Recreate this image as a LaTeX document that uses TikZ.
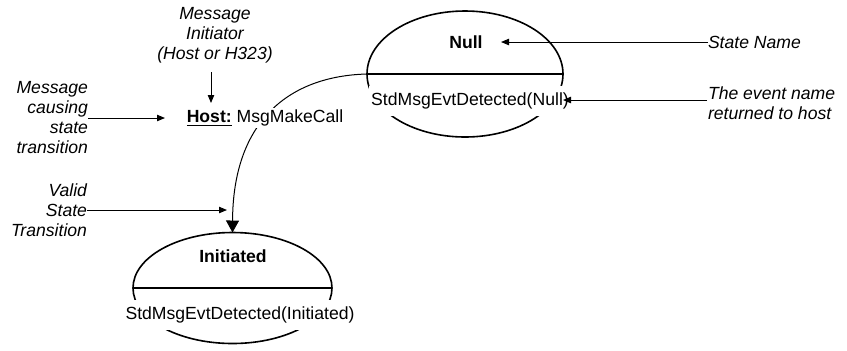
\documentclass[tikz,border=0pt]{standalone}
\usepackage{fontspec}
\setmainfont{Liberation Sans}
\usetikzlibrary{arrows.meta,shapes.geometric}
\begin{document}
\begin{tikzpicture}[x=0.5pt,y=-0.5pt,
  every node/.style={font=\fontsize{8.8}{10}\selectfont, inner sep=0pt, outer sep=0pt},
  statebox/.style={ellipse, draw, line width=0.8pt},
  lbl/.style={font=\fontsize{8.8}{10}\selectfont\itshape},
  arr/.style={-{Triangle[length=4pt,width=3.2pt]}, line width=0.5pt},
  bigarr/.style={-{Triangle[length=6pt,width=6.5pt]}, line width=0.5pt},
  evt/.style={fill=white, inner xsep=1pt, inner ysep=3.5pt}]
\useasboundingbox (0,0) rectangle (847,350);
% states
\node[statebox, minimum width=98pt, minimum height=63pt] (nullst) at (465,74) {};
\node[statebox, minimum width=99.5pt, minimum height=55.5pt] (initst) at (232.5,288) {};
\draw[line width=0.6pt] (nullst.west) -- (nullst.east);
\draw[line width=0.6pt] (initst.west) -- (initst.east);
\node[font=\fontsize{8.8}{10}\selectfont\bfseries] (nulltitle) at (466,42) {Null};
\node[font=\fontsize{8.8}{10}\selectfont\bfseries] (inittitle) at (233,256) {Initiated};
\node[evt] (nullevt) at (470,101) {StdMsgEvtDetected(Null)};
\node[evt] (initevt) at (240,315) {StdMsgEvtDetected(Initiated)};
% transition
\draw[bigarr] (nullst.west) .. controls (290,76) and (233,120) .. (initst.north);
\node[fill=white, inner sep=1pt] (host) at (265,118) {\underline{\textbf{Host:}} MsgMakeCall};
% labels
\node[lbl, align=center] (initlbl) at (215,35) {Message\\Initiator\\(Host or H323)};
\node[lbl, align=right, anchor=east] (causelbl) at (88,118) {Message\\causing\\state\\transition};
\node[lbl, align=right, anchor=east] (validlbl) at (87,210) {Valid\\State\\Transition};
\node[lbl, anchor=west] (statelbl) at (708,42) {State Name};
\node[lbl, align=left, anchor=north west] (evlbl) at (708,87) {The event name\\returned to host};
% label arrows
\coordinate (ia) at (211,72);
\coordinate (ib) at (211,103);
\draw[arr] (ia) -- (ib);
\coordinate (cb) at (165,118);
\draw[arr] (causelbl.east) -- (cb);
\coordinate (vb) at (227,210);
\draw[arr] (validlbl.east) -- (vb);
\coordinate (sb) at (501,42);
\draw[arr] (statelbl.west) -- (sb);
\coordinate (ea) at (707,100);
\coordinate (eb) at (563,100);
\draw[arr] (ea) -- (eb);
\end{tikzpicture}
\end{document}
